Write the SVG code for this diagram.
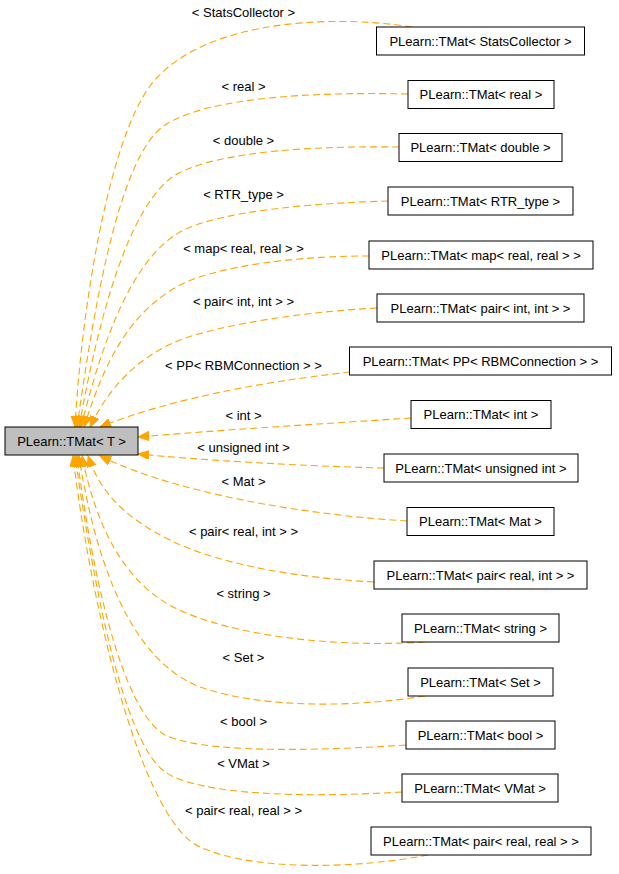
<svg xmlns="http://www.w3.org/2000/svg" width="619" height="874" viewBox="0 0 619 874">
<style>
.bg{fill:#ffffff}
.n rect{fill:#ffffff;stroke:#000000;stroke-width:1}
.n.main rect{fill:#bfbfbf}
.n text,.lbl{font-family:"Liberation Sans",Arial,Helvetica,sans-serif;font-size:13px;fill:#000000;text-anchor:middle}
.e{fill:none;stroke:#ffa500;stroke-width:1.1;stroke-dasharray:7,4;marker-end:url(#arr)}
</style>
<defs>
<marker id="arr" markerUnits="userSpaceOnUse" markerWidth="12" markerHeight="10" refX="11" refY="4.5" orient="auto">
<path d="M0,0 L11,4.5 L0,9 z" fill="#ffa500" stroke="#ffa500" stroke-width="1"/>
</marker>
</defs>
<rect class="bg" x="0" y="0" width="619" height="874"/>
<g id="edges">
<path class="e" d="M412,27 C330,14 200,20 150,86 C110,140 82,300 75,427"/>
<path class="e" d="M408,94 C320,92 210,96 165,125 C120,155 95,300 77,427"/>
<path class="e" d="M399,147 C320,146 220,150 175,175 C130,205 100,310 79,427"/>
<path class="e" d="M388,201 C320,203 220,210 180,232 C135,258 105,330 81,427"/>
<path class="e" d="M369,256 C300,256 220,265 180,285 C130,312 105,360 84,427"/>
<path class="e" d="M377,308 C300,312 220,325 180,340 C140,356 110,385 90,427"/>
<path class="e" d="M350,372 C280,380 180,395 100,427"/>
<path class="e" d="M411,418 C320,424 220,430 138,437"/>
<path class="e" d="M384,468 C300,466 200,460 138,454"/>
<path class="e" d="M407,521 C310,515 180,495 100,456"/>
<path class="e" d="M374,582 C300,578 220,565 170,540 C120,515 100,490 88,456"/>
<path class="e" d="M425,642 C330,648 230,635 175,608 C120,580 95,520 82,456"/>
<path class="e" d="M425,696 C350,708 260,708 200,687 C130,660 95,560 79,456"/>
<path class="e" d="M406,745 C300,752 200,752 165,735 C120,710 90,560 77,456"/>
<path class="e" d="M402,792 C300,798 200,795 165,772 C120,740 90,560 75,456"/>
<path class="e" d="M428,855 C350,870 250,870 200,847 C140,820 90,600 73,456"/>
<text class="lbl" x="243.5" y="17">&lt; StatsCollector &gt;</text>
<text class="lbl" x="243.5" y="91">&lt; real &gt;</text>
<text class="lbl" x="243.5" y="145">&lt; double &gt;</text>
<text class="lbl" x="243.5" y="199">&lt; RTR_type &gt;</text>
<text class="lbl" x="243.5" y="253">&lt; map&lt; real, real &gt; &gt;</text>
<text class="lbl" x="243.5" y="306">&lt; pair&lt; int, int &gt; &gt;</text>
<text class="lbl" x="243.5" y="370">&lt; PP&lt; RBMConnection &gt; &gt;</text>
<text class="lbl" x="243.5" y="420">&lt; int &gt;</text>
<text class="lbl" x="243.5" y="452">&lt; unsigned int &gt;</text>
<text class="lbl" x="243.5" y="486">&lt; Mat &gt;</text>
<text class="lbl" x="243.5" y="536">&lt; pair&lt; real, int &gt; &gt;</text>
<text class="lbl" x="243.5" y="598">&lt; string &gt;</text>
<text class="lbl" x="243.5" y="662">&lt; Set &gt;</text>
<text class="lbl" x="243.5" y="726">&lt; bool &gt;</text>
<text class="lbl" x="243.5" y="768">&lt; VMat &gt;</text>
<text class="lbl" x="243.5" y="815">&lt; pair&lt; real, real &gt; &gt;</text>
</g>
<g id="node-main" class="n main"><rect x="5" y="427" width="133" height="28"/><text x="71.5" y="445.5">PLearn::TMat&lt; T &gt;</text></g>
<g id="node-statscollector" class="n"><rect x="376.5" y="27" width="208" height="28"/><text x="480.5" y="45.5">PLearn::TMat&lt; StatsCollector &gt;</text></g>
<g id="node-real" class="n"><rect x="408" y="80.5" width="146" height="28"/><text x="481" y="99">PLearn::TMat&lt; real &gt;</text></g>
<g id="node-double" class="n"><rect x="399" y="133.5" width="163" height="28"/><text x="480.5" y="152">PLearn::TMat&lt; double &gt;</text></g>
<g id="node-rtrtype" class="n"><rect x="388" y="187" width="185" height="28"/><text x="480.5" y="205.5">PLearn::TMat&lt; RTR_type &gt;</text></g>
<g id="node-map" class="n"><rect x="369" y="241" width="224" height="28"/><text x="481" y="259.5">PLearn::TMat&lt; map&lt; real, real &gt; &gt;</text></g>
<g id="node-pairintint" class="n"><rect x="377" y="294" width="207" height="28"/><text x="480.5" y="312.5">PLearn::TMat&lt; pair&lt; int, int &gt; &gt;</text></g>
<g id="node-pp" class="n"><rect x="349.5" y="347" width="262" height="28"/><text x="480.5" y="365.5">PLearn::TMat&lt; PP&lt; RBMConnection &gt; &gt;</text></g>
<g id="node-int" class="n"><rect x="411" y="400.5" width="140" height="28"/><text x="481" y="419">PLearn::TMat&lt; int &gt;</text></g>
<g id="node-unsignedint" class="n"><rect x="384" y="454" width="194" height="28"/><text x="481" y="472.5">PLearn::TMat&lt; unsigned int &gt;</text></g>
<g id="node-mat" class="n"><rect x="407" y="507.5" width="147" height="28"/><text x="480.5" y="526">PLearn::TMat&lt; Mat &gt;</text></g>
<g id="node-pairrealint" class="n"><rect x="374" y="561" width="213" height="28"/><text x="480.5" y="579.5">PLearn::TMat&lt; pair&lt; real, int &gt; &gt;</text></g>
<g id="node-string" class="n"><rect x="402" y="614" width="157" height="28"/><text x="480.5" y="632.5">PLearn::TMat&lt; string &gt;</text></g>
<g id="node-set" class="n"><rect x="408" y="668" width="145" height="28"/><text x="480.5" y="686.5">PLearn::TMat&lt; Set &gt;</text></g>
<g id="node-bool" class="n"><rect x="406" y="721" width="149" height="28"/><text x="480.5" y="739.5">PLearn::TMat&lt; bool &gt;</text></g>
<g id="node-vmat" class="n"><rect x="402" y="774" width="156" height="28"/><text x="480" y="792.5">PLearn::TMat&lt; VMat &gt;</text></g>
<g id="node-pairrealreal" class="n"><rect x="371" y="827" width="220" height="28"/><text x="481" y="845.5">PLearn::TMat&lt; pair&lt; real, real &gt; &gt;</text></g>
</svg>
